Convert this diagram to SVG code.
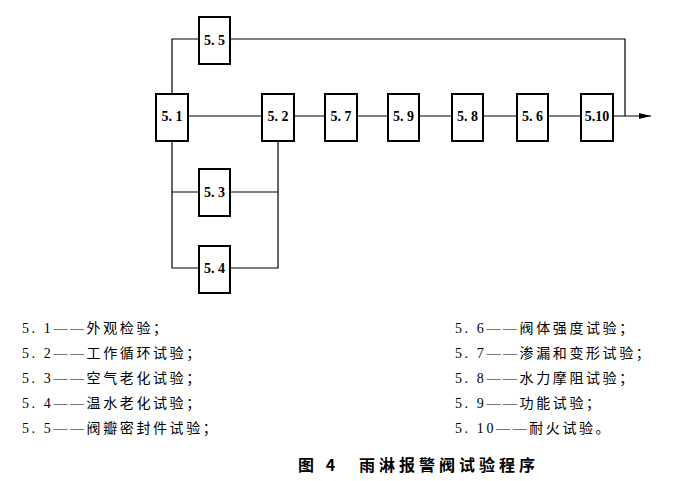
<svg xmlns="http://www.w3.org/2000/svg" width="691" height="481" viewBox="0 0 691 481">
<style>
.b{fill:#fff;stroke:#000;stroke-width:2}
.l{fill:none;stroke:#000;stroke-width:1.2}
.t{font-family:"Liberation Serif",serif;font-size:14px;font-weight:bold;text-anchor:middle}
.g{font-family:"Liberation Serif","Noto Sans CJK SC",serif;font-size:14px;letter-spacing:2.6px}
.h{font-family:"Noto Sans CJK SC",sans-serif;font-size:16px;font-weight:bold;letter-spacing:4px}
</style>
<defs><marker id="a" markerWidth="12" markerHeight="6" refX="12" refY="3" orient="auto" markerUnits="userSpaceOnUse"><path d="M0,0L12,3L0,6z"/></marker></defs>
<rect width="691" height="481" fill="#fff"/>
<g id="connectors">
<path class="l" d="M172,94V39H199M230,39H625V116M188,116H262M294,116H325M357,116H388M419,116H452M483,116H517M548,116H581M172,141V268H199M172,192H199M230,192H278M230,268H278V141"/>
<path class="l" d="M613,116H651" marker-end="url(#a)"/>
</g>
<g id="n55"><rect class="b" x="199" y="17" width="31" height="47"/><text class="t" x="214.5" y="45">5. 5</text></g>
<g id="n51"><rect class="b" x="156" y="94" width="32" height="47"/><text class="t" x="172" y="121">5. 1</text></g>
<g id="n52"><rect class="b" x="262" y="94" width="32" height="47"/><text class="t" x="278" y="121">5. 2</text></g>
<g id="n57"><rect class="b" x="325" y="94" width="32" height="47"/><text class="t" x="341" y="121">5. 7</text></g>
<g id="n59"><rect class="b" x="388" y="94" width="31" height="47"/><text class="t" x="403.5" y="121">5. 9</text></g>
<g id="n58"><rect class="b" x="452" y="94" width="31" height="47"/><text class="t" x="467.5" y="121">5. 8</text></g>
<g id="n56"><rect class="b" x="517" y="94" width="31" height="47"/><text class="t" x="532.5" y="121">5. 6</text></g>
<g id="n510"><rect class="b" x="581" y="94" width="32" height="47"/><text class="t" x="597" y="121">5.10</text></g>
<g id="n53"><rect class="b" x="199" y="169" width="31" height="47"/><text class="t" x="214.5" y="197">5. 3</text></g>
<g id="n54"><rect class="b" x="199" y="246" width="31" height="47"/><text class="t" x="214.5" y="273">5. 4</text></g>
<g id="legend">
<text class="g" x="22" y="333">5. 1——外观检验；</text>
<text class="g" x="22" y="358">5. 2——工作循环试验；</text>
<text class="g" x="22" y="383">5. 3——空气老化试验；</text>
<text class="g" x="22" y="408">5. 4——温水老化试验；</text>
<text class="g" x="22" y="433">5. 5——阀瓣密封件试验；</text>
<text class="g" x="455" y="333">5. 6——阀体强度试验；</text>
<text class="g" x="455" y="358">5. 7——渗漏和变形试验；</text>
<text class="g" x="455" y="383">5. 8——水力摩阻试验；</text>
<text class="g" x="455" y="408">5. 9——功能试验；</text>
<text class="g" x="455" y="433">5. 10——耐火试验。</text>
<text class="h" x="298" y="471">图 4　雨淋报警阀试验程序</text>
</g>
</svg>
